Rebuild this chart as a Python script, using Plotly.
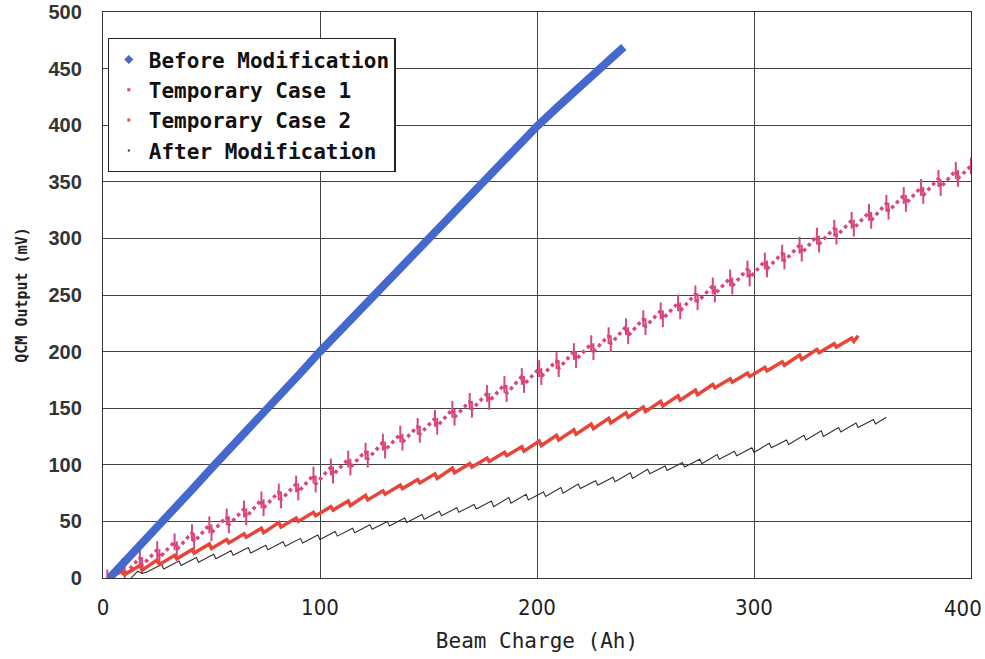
import plotly.graph_objects as go

# ---------------- data ----------------
series_names = ["Before Modification", "Temporary Case 1", "Temporary Case 2", "After Modification"]

before_x = [3, 10, 20, 30, 40, 50, 60, 70, 80, 90, 100, 110, 120, 130, 140, 150, 160, 170, 180, 190, 200, 210, 220, 230, 236, 240]
before_y = [0, 14, 35, 56, 76, 97, 117, 138, 159, 179, 200, 220, 240, 260, 280, 300, 320, 340, 360, 380, 399, 417, 435, 452, 462, 469]

case1_x = [2, 9, 10, 17, 18, 25, 26, 33, 34, 41, 42, 49, 50, 57, 58, 65, 66, 73, 74, 81,
           82, 89, 90, 97, 98, 105, 106, 113, 114, 121, 122, 129, 130, 137, 138, 145, 146, 153, 154, 161,
           162, 169, 170, 177, 178, 185, 186, 193, 194, 201, 202, 209, 210, 217, 218, 225, 226, 233, 234, 241,
           242, 249, 250, 257, 258, 265, 266, 273, 274, 281, 282, 289, 290, 297, 298, 305, 306, 313, 314, 321,
           322, 329, 330, 337, 338, 345, 346, 353, 354, 361, 362, 369, 370, 377, 378, 385, 386, 393, 394, 400]
case1_y = [0, 10, 3, 18, 11, 25, 18, 32, 25, 40, 32, 47, 40, 54, 47, 61, 54, 69, 62, 76,
           69, 83, 76, 91, 83, 98, 91, 105, 98, 112, 105, 120, 113, 127, 120, 134, 127, 141, 134, 149,
           142, 156, 149, 163, 156, 171, 163, 178, 171, 185, 178, 192, 185, 200, 193, 207, 200, 214, 207, 222,
           214, 229, 222, 236, 229, 243, 236, 251, 244, 258, 251, 265, 258, 273, 265, 280, 273, 287, 280, 294,
           287, 302, 295, 309, 302, 316, 309, 323, 316, 331, 324, 338, 331, 345, 338, 353, 345, 360, 353, 364]

case2_x = [2, 9, 10, 17, 18, 25, 26, 33, 34, 41, 42, 49, 50, 57, 58, 65, 66, 73, 74, 81,
           82, 89, 90, 97, 98, 105, 106, 113, 114, 121, 122, 129, 130, 137, 138, 145, 146, 153, 154, 161,
           162, 169, 170, 177, 178, 185, 186, 193, 194, 201, 202, 209, 210, 217, 218, 225, 226, 233, 234, 241,
           242, 249, 250, 257, 258, 265, 266, 273, 274, 281, 282, 289, 290, 297, 298, 305, 306, 313, 314, 321,
           322, 329, 330, 337, 338, 345, 346, 348]
case2_y = [0, 6, 3, 11, 7, 16, 12, 20, 17, 25, 22, 30, 26, 34, 31, 39, 36, 44, 40, 49,
           45, 53, 50, 58, 55, 63, 60, 68, 64, 73, 69, 77, 74, 82, 79, 87, 84, 92, 88, 97,
           93, 101, 98, 106, 103, 111, 108, 116, 112, 121, 117, 126, 122, 131, 127, 136, 132, 141, 137, 146,
           142, 151, 147, 156, 152, 161, 157, 166, 162, 171, 168, 176, 173, 181, 178, 186, 183, 191, 188, 197,
           193, 202, 199, 207, 204, 212, 209, 214]

after_x = [13, 16, 18,
           20, 27, 28, 35, 36, 43, 44, 51, 52, 59, 60, 67, 68, 75, 76, 83, 84, 91,
           92, 99, 100, 107, 108, 115, 116, 123, 124, 131, 132, 139, 140, 147, 148, 155, 156, 163, 164, 171,
           172, 179, 180, 187, 188, 195, 196, 203, 204, 211, 212, 219, 220, 227, 228, 235, 236, 243, 244, 251,
           252, 259, 260, 267, 268, 275, 276, 283, 284, 291, 292, 299, 300, 307, 308, 315, 316, 323, 324, 331,
           332, 339, 340, 347, 348, 355, 356, 361]
after_y = [0, 6, 4,
           5, 12, 8, 15, 11, 18, 14, 21, 17, 24, 20, 27, 22, 29, 25, 32, 28, 35,
           31, 38, 34, 41, 37, 44, 40, 47, 43, 50, 46, 53, 49, 56, 52, 59, 55, 62, 58, 65,
           61, 68, 63, 71, 66, 74, 69, 76, 72, 80, 75, 83, 79, 86, 82, 89, 85, 93, 88, 96,
           92, 99, 95, 102, 98, 105, 101, 109, 105, 112, 108, 115, 111, 119, 115, 122, 118, 126, 122, 130,
           125, 133, 129, 137, 133, 140, 136, 142]

x_ticks = [0, 100, 200, 300, 400]
x_ticklabels = ["0", "100", "200", "300", "400"]
y_ticks = [0, 50, 100, 150, 200, 250, 300, 350, 400, 450, 500]

for a, b in [(before_x, before_y), (case1_x, case1_y), (case2_x, case2_y), (after_x, after_y)]:
    assert len(a) == len(b), (len(a), len(b))

# ---------------- styles ----------------
c_blue = "#4468CE"
c_pink = "#D8457F"
c_red = "#E8443A"
c_dark = "#3A2A2A"
mono = "DejaVu Sans Mono, Liberation Mono, monospace"
narrow = "Liberation Sans Narrow, DejaVu Sans Condensed, Liberation Sans, sans-serif"
xtick_font = dict(family=narrow, size=22, color="#222")

fig = go.Figure()

# data traces
fig.add_trace(go.Scatter(x=case1_x, y=case1_y, mode="lines+markers", showlegend=False,
                         line=dict(color=c_pink, width=3.5, dash="dot"),
                         marker=dict(symbol="line-ns-open", size=12, line=dict(color=c_pink, width=2))))
fig.add_trace(go.Scatter(x=after_x, y=after_y, mode="lines", showlegend=False,
                         line=dict(color=c_dark, width=1.1)))
fig.add_trace(go.Scatter(x=case2_x, y=case2_y, mode="lines", showlegend=False,
                         line=dict(color=c_red, width=3.5)))
fig.add_trace(go.Scatter(x=before_x, y=before_y, mode="lines", showlegend=False,
                         line=dict(color=c_blue, width=8)))

# legend entries (markers only, as in the reference)
legend_styles = [
    dict(color=c_blue, size=7, symbol="diamond"),
    dict(color=c_pink, size=3, symbol="square"),
    dict(color=c_red, size=3, symbol="square"),
    dict(color=c_dark, size=2, symbol="square"),
]
for name, mk in zip(series_names, legend_styles):
    fig.add_trace(go.Scatter(x=[None], y=[None], mode="markers", name=name, marker=mk))

# the last x tick label sits at the right edge: right-align it so it stays inside the page
fig.add_annotation(x=x_ticks[-1], y=0, xref="x", yref="y", text=x_ticklabels[-1],
                   showarrow=False, xanchor="right", yanchor="top", xshift=13, yshift=-16,
                   font=xtick_font)

fig.update_layout(
    width=985, height=659,
    margin=dict(l=103, r=14, t=12, b=81),
    paper_bgcolor="white", plot_bgcolor="white",
    showlegend=True,
    legend=dict(x=0.0052, y=0.954, xanchor="left", yanchor="top",
                bgcolor="white", bordercolor="#222", borderwidth=1.3,
                font=dict(family=mono, size=21, color="#111", weight="bold"),
                itemsizing="trace", tracegroupgap=0),
    xaxis=dict(range=[0, 400], tickvals=x_ticks, ticktext=x_ticklabels[:-1] + [""],
               automargin=False, ticklabeloverflow="allow",
               showgrid=True, gridcolor="#444", gridwidth=1.3,
               showline=True, linecolor="#333", linewidth=1.3, mirror=True,
               zeroline=False, ticks="", ticklabelstandoff=9,
               tickfont=xtick_font,
               title=dict(text="Beam Charge (Ah)", standoff=14,
                          font=dict(family=mono, size=21, color="#222"))),
    yaxis=dict(range=[0, 500], tickvals=y_ticks, ticktext=[str(v) for v in y_ticks],
               automargin=False, ticklabeloverflow="allow",
               showgrid=True, gridcolor="#444", gridwidth=1.3,
               showline=True, linecolor="#333", linewidth=1.3, mirror=True,
               zeroline=False, ticks="", ticklabelstandoff=16,
               tickfont=dict(family="Liberation Sans, Arial, sans-serif", size=20, color="#333", weight="bold"),
               title=dict(text="QCM Output (mV)", standoff=17,
                          font=dict(family=mono, size=15, color="#222", weight="bold"))),
)

# remove the browser's default 8 px body margin so the figure fills the window exactly
fig.write_html("out.html", config={"displayModeBar": False},
               post_script="document.body.style.margin='0';")
